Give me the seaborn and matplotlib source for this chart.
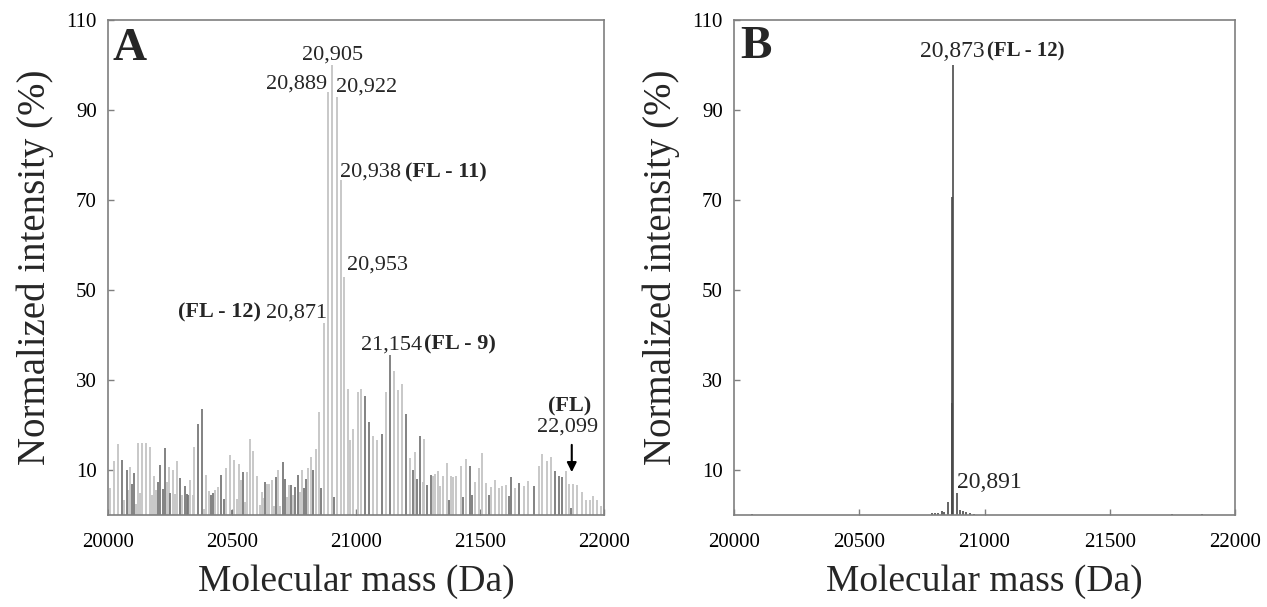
import matplotlib; matplotlib.use('Agg')
import numpy as np
import pandas as pd
import seaborn as sns
import matplotlib.pyplot as plt

# ---- Panel A: stick spectrum (light gray + dark gray peaks) ----
light_mass = [20007, 20025, 20042, 20064, 20080, 20088, 20113, 20122, 20129, 20138,
              20155, 20171, 20176, 20187, 20195, 20236, 20244, 20262, 20270, 20278,
              20300, 20332, 20342, 20348, 20386, 20394, 20408, 20431, 20442,
              20475, 20492, 20509, 20519, 20527, 20536, 20551, 20559, 20573, 20586,
              20601, 20612, 20620, 20626, 20643, 20651, 20662, 20670, 20687, 20695,
              20723, 20729, 20745, 20773, 20782, 20806, 20817, 20837, 20852,
              20871, 20889, 20905, 20922, 20938, 20953,
              20966, 20976, 20987, 21008, 21022, 21069, 21086, 21121, 21154, 21170,
              21185, 21217, 21239, 21269, 21275, 21309, 21319, 21329, 21339, 21350,
              21366, 21382, 21392, 21403, 21424, 21443, 21478, 21494, 21510, 21525,
              21546, 21562, 21575, 21590, 21605, 21642, 21676, 21693, 21737, 21752,
              21769, 21786, 21845, 21860, 21877, 21891, 21913, 21927, 21942, 21957,
              21971, 21986]
light_int = [5.9, 11.9, 15.7, 3.3, 5.6, 10.7, 2.4, 15.9, 4.8, 16.1,
             16.1, 15.2, 4.4, 8.7, 5.6, 7.4, 10.7, 10.0, 4.6, 11.9,
             4.4, 7.8, 4.4, 15.2, 1.3, 8.9, 5.4, 5.6, 6.3,
             10.5, 13.3, 12.2, 3.5, 11.3, 7.8, 3.0, 9.5, 17.0, 14.2,
             8.7, 2.2, 5.2, 3.7, 7.0, 7.0, 7.8, 2.0, 10.0, 1.9,
             4.1, 6.7, 4.4, 5.2, 10.1, 10.5, 12.8, 14.6, 23.0,
             42.7, 94.0, 100.0, 93.0, 74.5, 53.0,
             28.1, 16.7, 19.1, 27.4, 28.1, 17.5, 16.7, 27.4, 32.1, 27.8,
             29.2, 12.6, 14.1, 7.4, 17.0, 8.7, 9.1, 9.8, 6.4, 8.7,
             11.5, 8.7, 8.4, 8.7, 10.9, 12.4, 7.4, 10.4, 13.7, 7.2,
             6.3, 7.8, 6.1, 6.4, 6.7, 5.9, 6.4, 7.6, 10.9, 13.6,
             12.0, 12.8, 9.8, 6.9, 6.9, 6.7, 5.2, 3.3, 3.4, 4.3,
             3.3, 1.9]

dark_mass = [20058, 20075, 20097, 20105, 20203, 20211, 20220, 20228, 20251, 20292,
             20309, 20317, 20324, 20362, 20378, 20415, 20423, 20456, 20467, 20500,
             20543, 20635, 20678, 20707, 20715, 20737, 20753, 20767, 20790, 20798,
             20828, 20859, 20912, 21038, 21053, 21105, 21137, 21201, 21231, 21247,
             21258, 21285, 21302, 21376, 21433, 21460, 21467, 21537, 21615, 21624,
             21659, 21716, 21803, 21817, 21830, 21866]
dark_int = [12.2, 10.1, 6.9, 9.3, 7.4, 11.1, 5.8, 14.8, 4.8, 8.3,
            6.4, 4.6, 4.4, 20.2, 23.5, 4.4, 4.8, 8.9, 3.5, 1.1,
            9.5, 7.3, 8.4, 11.7, 8.1, 6.7, 6.3, 8.9, 5.9, 8.0,
            10.1, 5.9, 4.0, 26.5, 20.7, 18.0, 35.5, 22.4, 10.1, 7.9,
            17.5, 6.7, 8.9, 3.3, 3.9, 11.0, 4.4, 4.4, 4.2, 8.4,
            7.2, 6.4, 9.8, 8.7, 8.4, 1.5]

# ---- Panel B ----
b_mass = [20072, 20792, 20802, 20814, 20832, 20838, 20854, 20870, 20872, 20873,
          20892, 20903, 20916, 20927, 20943, 20959, 21747, 21867]
b_int = [0.3, 0.4, 0.4, 0.5, 0.9, 0.6, 3.0, 24.9, 70.7, 100.0,
         4.9, 1.2, 0.9, 0.6, 0.4, 0.3, 0.2, 0.3]

x_ticks = [20000, 20500, 21000, 21500, 22000]
y_ticks = [10, 30, 50, 70, 90, 110]

df_light = pd.DataFrame({'mass': light_mass, 'intensity': light_int})
df_dark = pd.DataFrame({'mass': dark_mass, 'intensity': dark_int})
df_b = pd.DataFrame({'mass': b_mass, 'intensity': b_int})

sns.set_theme(style='ticks')
plt.rcParams['font.family'] = ['Liberation Serif', 'DejaVu Serif']

fig = plt.figure(figsize=(12.67, 6.07), dpi=100)
axA = fig.add_axes([108 / 1267, 1 - 515 / 607, 496 / 1267, 495 / 607])
axB = fig.add_axes([734 / 1267, 1 - 515 / 607, 501 / 1267, 495 / 607])

LIGHT = '#c4c4c4'
DARK = '#787878'

axA.vlines(df_light['mass'], 0, df_light['intensity'], color=LIGHT, lw=1.3)
axA.vlines(df_dark['mass'], 0, df_dark['intensity'], color=DARK, lw=1.3)
axB.vlines(df_b['mass'], 0, df_b['intensity'], color='#4a4a4a', lw=1.2)

for ax in (axA, axB):
    ax.set_xlim(20000, 22000)
    ax.set_ylim(0, 110)
    ax.set_xticks(x_ticks)
    ax.set_yticks(y_ticks)
    ax.tick_params(direction='in', length=4, width=1, color='#7f7f7f',
                   labelsize=15, labelcolor='black')
    ax.tick_params(axis='x', pad=13)
    ax.tick_params(axis='y', pad=8)
    for s in ax.spines.values():
        s.set_color('#7f7f7f')
        s.set_linewidth(1.2)
    ax.set_xlabel('Molecular mass (Da)', fontsize=27)
    ax.set_ylabel('Normalized intensity (%)', fontsize=28)
    ax.xaxis.set_label_coords(0.5, -0.1)
    ax.yaxis.set_label_coords(-0.108, 0.5)

# panel letters
axA.text(0.01, 0.919, 'A', transform=axA.transAxes, fontsize=34,
         fontweight='bold', va='baseline', ha='left')
axB.text(0.012, 0.923, 'B', transform=axB.transAxes, fontsize=34,
         fontweight='bold', va='baseline', ha='left')

# panel A annotations
fs = 16
axA.text(20905, 102.2, '20,905', fontsize=fs, ha='center', va='center')
axA.text(20883, 95.8, '20,889', fontsize=fs, ha='right', va='center')
axA.text(20919, 95.1, '20,922', fontsize=fs, ha='left', va='center')
axA.text(20934, 76.2, '20,938', fontsize=fs, ha='left', va='center')
axA.text(21196, 76.2, '(FL - 11)', fontsize=fs, fontweight='bold', ha='left', va='center')
axA.text(20963, 55.6, '20,953', fontsize=fs, ha='left', va='center')
axA.text(20617, 44.9, '(FL - 12)', fontsize=fs, fontweight='bold', ha='right', va='center')
axA.text(20883, 44.9, '20,871', fontsize=fs, ha='right', va='center')
axA.text(21020, 37.8, '21,154', fontsize=fs, ha='left', va='center')
axA.text(21274, 37.8, '(FL - 9)', fontsize=fs, fontweight='bold', ha='left', va='center')
axA.text(21863, 24.2, '(FL)', fontsize=fs, fontweight='bold', ha='center', va='center')
axA.text(21855, 19.6, '22,099', fontsize=fs, ha='center', va='center')
axA.annotate('', xy=(21870, 8.9), xytext=(21870, 16.2),
             arrowprops=dict(arrowstyle='-|>', color='black', lw=1.5,
                             mutation_scale=14))

# panel B annotations
axB.text(20741, 102.9, '20,873', fontsize=17, ha='left', va='center')
axB.text(21010, 102.9, '(FL - 12)', fontsize=15, fontweight='bold', ha='left', va='center')
axB.text(20890, 7.3, '20,891', fontsize=17, ha='left', va='center')

fig.savefig('out.png', dpi=100, facecolor='white')
